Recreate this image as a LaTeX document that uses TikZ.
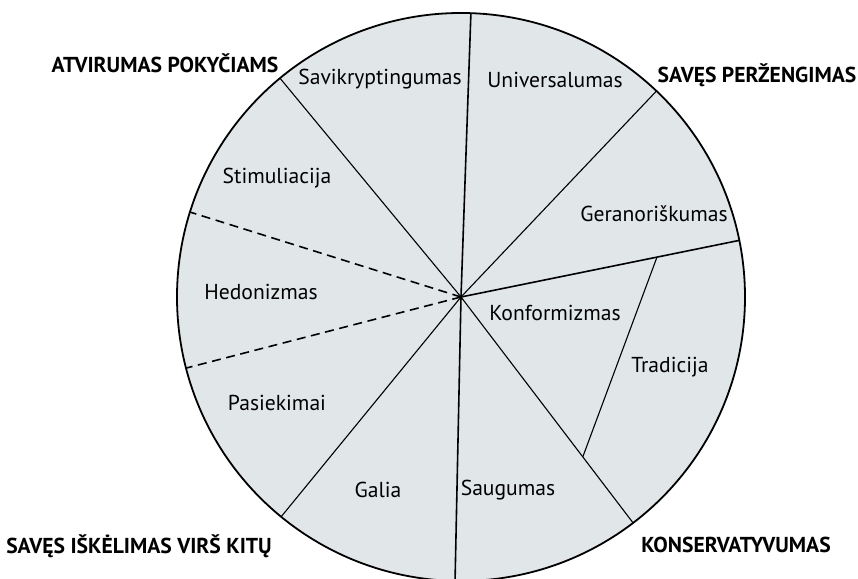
\documentclass[tikz,border=0pt]{standalone}
\usepackage{fontspec}
\setmainfont{PT Sans}
\usetikzlibrary{positioning}
\definecolor{piefill}{RGB}{225,230,233}

\begin{document}
\begin{tikzpicture}[x=0.5pt, y=0.5pt,
    value/.style={font=\fontsize{10.8}{12}\selectfont, inner sep=1pt},
    group/.style={font=\fontsize{10.8}{12}\selectfont\bfseries, inner sep=1pt},
    radial/.style={line width=0.55pt},
    main/.style={line width=0.8pt},
    border/.style={line width=0.9pt}]
    \useasboundingbox (0,0) rectangle (858,579);
    \coordinate (c) at (461,282);
    \fill[piefill] (c) circle[radius=142pt];
    % points on the rim
    \foreach \a/\n in {88/t, 46.5/ur, 11.5/r, 307.3/lr, 268.8/b, 230.7/ll, 129.6/ul, 162.6/d1, 194.5/d2}
        \path (c) ++(\a:284) coordinate (\n);
    \path (c) ++(11.5:200) coordinate (k1);
    \path (c) ++(307.3:201) coordinate (k2);
    \foreach \n in {ur, lr, ll, ul}
        \draw[radial] (c) -- (\n);
    \foreach \n in {t, r, b}
        \draw[main] (c) -- (\n);
    \draw[main, dash pattern=on 4.5pt off 2.8pt] (c) -- (d1);
    \draw[main, dash pattern=on 4.5pt off 2.8pt] (c) -- (d2);
    \draw[radial] (k1) -- (k2);
    \draw[border] (c) circle[radius=142pt];

    \node[value] (sav) at (380,500) {Savikryptingumas};
    \node[value] (uni) at (555,499) {Universalumas};
    \node[value] (sti) at (277,401) {Stimuliacija};
    \node[value] (ger) at (654,365) {Geranoriškumas};
    \node[value] (hed) at (261,287) {Hedonizmas};
    \node[value] (kon) at (555,266) {Konformizmas};
    \node[value] (tra) at (670,212) {Tradicija};
    \node[value] (pas) at (277,176) {Pasiekimai};
    \node[value] (gal) at (378,89) {Galia};
    \node[value] (sau) at (508,89) {Saugumas};

    \node[group] (atv) at (165,516) {ATVIRUMAS POKYČIAMS};
    \node[group] (per) at (757,504) {SAVĘS PERŽENGIMAS};
    \node[group] (isk) at (139,33) {SAVĘS IŠKĖLIMAS VIRŠ KITŲ};
    \node[group] (kns) at (736,34) {KONSERVATYVUMAS};
\end{tikzpicture}
\end{document}
